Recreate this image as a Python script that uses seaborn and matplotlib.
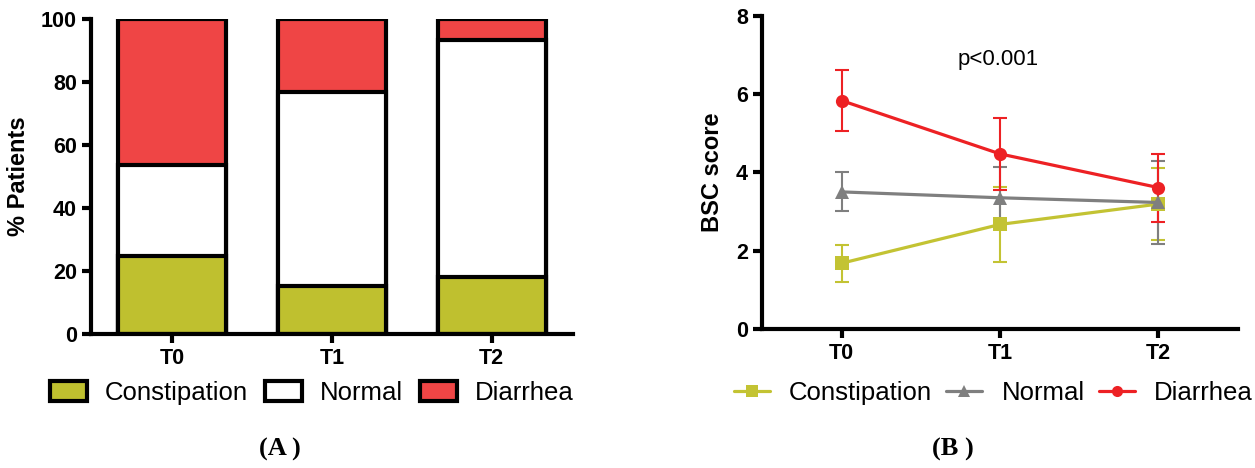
import numpy as np
import pandas as pd
import matplotlib
matplotlib.use("Agg")
import matplotlib.pyplot as plt
import seaborn as sns
from matplotlib.patches import Patch
from matplotlib.lines import Line2D

# data
times = ["T0", "T1", "T2"]
groups = ["Constipation", "Normal", "Diarrhea"]
pct_constipation = [24.9, 15.2, 18.0]
pct_normal = [28.8, 61.5, 75.3]
pct_diarrhea = [46.3, 23.3, 6.7]

bsc_mean = {
    "Constipation": [1.68, 2.67, 3.19],
    "Normal": [3.50, 3.35, 3.23],
    "Diarrhea": [5.83, 4.47, 3.61],
}
bsc_sd = {
    "Constipation": [0.47, 0.96, 0.92],
    "Normal": [0.50, 0.79, 1.05],
    "Diarrhea": [0.78, 0.92, 0.87],
}

bar_colors = {"Constipation": "#BFC02F", "Normal": "#FFFFFF", "Diarrhea": "#EF4545"}
line_colors = {"Constipation": "#C3C333", "Normal": "#7F7F7F", "Diarrhea": "#ED2124"}
markers = {"Constipation": "s", "Normal": "^", "Diarrhea": "o"}

sns.set_style("ticks", {"axes.edgecolor": "black", "text.color": "black",
                        "axes.labelcolor": "black", "xtick.color": "black",
                        "ytick.color": "black"})
plt.rcParams["font.family"] = ["Liberation Sans", "DejaVu Sans"]

fig = plt.figure(figsize=(12.55, 4.68), dpi=100)
axA = fig.add_axes([0.0725, 0.2863, 0.3841, 0.6731])
axB = fig.add_axes([0.607, 0.297, 0.3795, 0.6696])

# ---- panel A: stacked bars (drawn as overlapping cumulative bars)
dfA = pd.DataFrame({"time": times,
                    "Constipation": pct_constipation,
                    "Normal": pct_normal,
                    "Diarrhea": pct_diarrhea})
dfA["cum_normal"] = dfA["Constipation"] + dfA["Normal"]
dfA["cum_all"] = dfA["cum_normal"] + dfA["Diarrhea"]

for col, grp in [("cum_all", "Diarrhea"), ("cum_normal", "Normal"), ("Constipation", "Constipation")]:
    sns.barplot(data=dfA, x="time", y=col, ax=axA, color=bar_colors[grp],
                edgecolor="black", linewidth=3, width=0.677, saturation=1)

axA.set_ylim(0, 100)
axA.set_xlim(-0.51, 2.51)
axA.set_yticks([0, 20, 40, 60, 80, 100])
axA.set_xlabel("")
axA.set_ylabel("% Patients", fontsize=17, fontweight="bold", labelpad=8)
sns.despine(ax=axA)
for s in ["left", "bottom"]:
    axA.spines[s].set_linewidth(3)
axA.tick_params(width=3, length=6.5, labelsize=15.5, pad=3.5, colors="black")
for lab in axA.get_xticklabels() + axA.get_yticklabels():
    lab.set_fontweight("bold")

handlesA = [Patch(facecolor=bar_colors[g], edgecolor="black", linewidth=3, label=g) for g in groups]
fig.legend(handles=handlesA, loc="center", bbox_to_anchor=(0.2486, 0.160), ncol=3,
           frameon=False, fontsize=18.5, handlelength=1.45,
           handleheight=0.8, handletextpad=0.7, columnspacing=0.65,
           borderpad=0, borderaxespad=0)

# ---- panel B: lines with SD error bars
rows = []
for g in groups:
    for i, t in enumerate(times):
        rows.append({"group": g, "x": i, "mean": bsc_mean[g][i], "sd": bsc_sd[g][i]})
dfB = pd.DataFrame(rows)

for g in groups:
    sub = dfB[dfB["group"] == g]
    axB.errorbar(sub["x"], sub["mean"], yerr=sub["sd"], fmt="none",
                 ecolor=line_colors[g], elinewidth=1.5, capsize=4.7, capthick=1.5, zorder=2)

sns.lineplot(data=dfB, x="x", y="mean", hue="group", style="group",
             palette=line_colors, markers=markers, dashes=False,
             linewidth=2.3, markersize=9.5, markeredgewidth=0, ax=axB, zorder=3, legend=False)

axB.set_xlim(-0.505, 2.503)
axB.set_ylim(0, 8)
axB.set_xticks([0, 1, 2])
axB.set_xticklabels(times)
axB.set_yticks([0, 2, 4, 6, 8])
axB.set_xlabel("")
axB.set_ylabel("BSC score", fontsize=17, fontweight="bold", labelpad=8.5)
sns.despine(ax=axB)
for s in ["left", "bottom"]:
    axB.spines[s].set_linewidth(3)
axB.tick_params(width=3, length=6.5, labelsize=15.5, pad=3.5, colors="black")
for lab in axB.get_xticklabels() + axB.get_yticklabels():
    lab.set_fontweight("bold")
axB.text(0.99, 6.87, "p<0.001", ha="center", va="center", fontsize=16, color="black")

handlesB = [Line2D([0], [0], color=line_colors[g], marker=markers[g], linewidth=2.3,
                   markersize=8, markeredgewidth=0, label=g) for g in groups]
fig.legend(handles=handlesB, loc="center", bbox_to_anchor=(0.7916, 0.160), ncol=3,
           frameon=False, fontsize=18.5, handlelength=1.4,
           handletextpad=0.75, columnspacing=0.55, borderpad=0, borderaxespad=0)

fig.text(0.2227, 0.040, "(A )", ha="center", va="center", fontsize=19, color="black",
         family=["Liberation Serif", "DejaVu Serif"], fontweight="bold")
fig.text(0.759, 0.040, "(B )", ha="center", va="center", fontsize=19, color="black",
         family=["Liberation Serif", "DejaVu Serif"], fontweight="bold")

fig.savefig("out.png", dpi=100)
